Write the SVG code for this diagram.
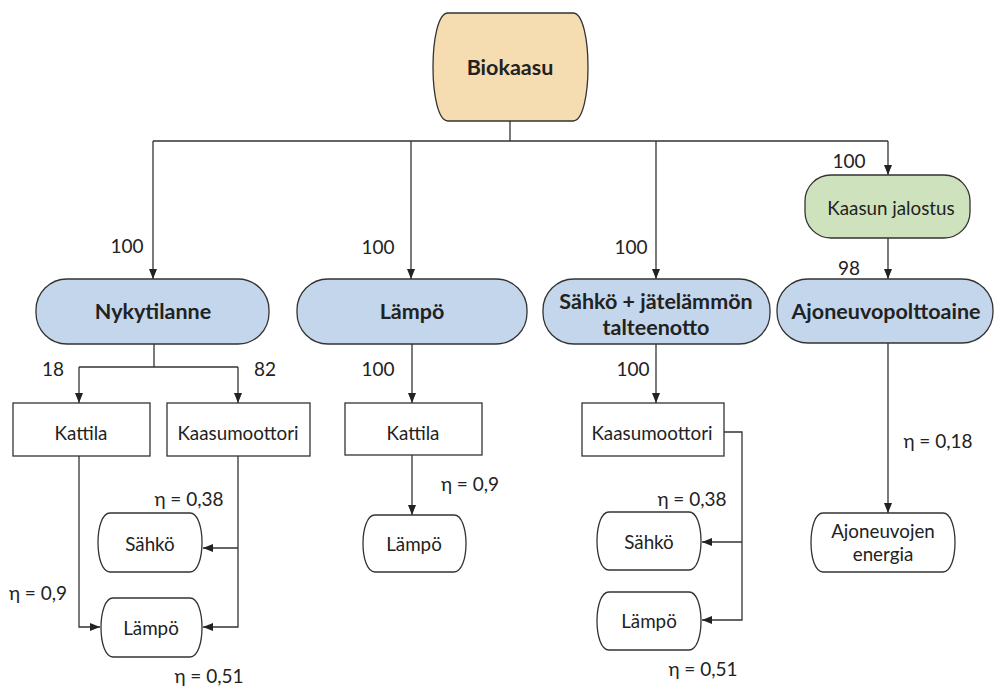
<svg xmlns="http://www.w3.org/2000/svg" width="997" height="686" viewBox="0 0 997 686">
<defs>
<marker id="ah" viewBox="0 0 10 8" refX="10" refY="4" markerWidth="10" markerHeight="8" orient="auto" markerUnits="userSpaceOnUse"><path d="M0,0 L10,4 L0,8 z" fill="#222"/></marker>
<style>
.ln{fill:none;stroke:#333;stroke-width:1.3}
.ar{marker-end:url(#ah)}
.nd{stroke:#333;stroke-width:1.3}
.w{fill:#fff}
.bl{fill:#c3d6eb}
.or{fill:#f5ddb1}
.gr{fill:#cfe2be}
text{font-family:Lato,"Open Sans","Liberation Sans",sans-serif;fill:#222;text-anchor:middle;dominant-baseline:central;font-size:18.8px}
.b{font-weight:bold;font-size:21.5px}
.lb{font-size:19px}
</style>
</defs>
<g id="connectors">
<path class="ln" d="M510,121 V141 M153,141 H888"/>
<path class="ln ar" d="M153,141 V279"/>
<path class="ln ar" d="M411,141 V279"/>
<path class="ln ar" d="M656,141 V279"/>
<path class="ln ar" d="M888,141 V175"/>
<path class="ln ar" d="M888,238 V279"/>
<path class="ln" d="M154,344 V367 M79,367 H238"/>
<path class="ln ar" d="M79,367 V403"/>
<path class="ln ar" d="M238,367 V403"/>
<path class="ln ar" d="M79,456 V627 H100"/>
<path class="ln ar" d="M238,456 V627 H203"/>
<path class="ln ar" d="M238,548 H203"/>
<path class="ln ar" d="M412,344 V403"/>
<path class="ln ar" d="M412,455 V515"/>
<path class="ln ar" d="M656,344 V403"/>
<path class="ln ar" d="M724,432 H742 V620 H702"/>
<path class="ln ar" d="M742,542 H702"/>
<path class="ln ar" d="M888,343 V513"/>
</g>
<g id="labels">
<text class="lb" x="127" y="245">100</text>
<text class="lb" x="378" y="246">100</text>
<text class="lb" x="631" y="246">100</text>
<text class="lb" x="849" y="160">100</text>
<text class="lb" x="849" y="267">98</text>
<text class="lb" x="53" y="368">18</text>
<text class="lb" x="265" y="368">82</text>
<text class="lb" x="378" y="368">100</text>
<text class="lb" x="633" y="368">100</text>
<text class="lb" x="189" y="498">η = 0,38</text>
<text class="lb" x="38" y="592">η = 0,9</text>
<text class="lb" x="209" y="675">η = 0,51</text>
<text class="lb" x="470" y="483">η = 0,9</text>
<text class="lb" x="692" y="498">η = 0,38</text>
<text class="lb" x="703" y="668">η = 0,51</text>
<text class="lb" x="938" y="440">η = 0,18</text>
</g>
<g id="biokaasu">
<path class="nd or" d="M448,13 H573 C593,13 593,121 573,121 H448 C428,121 428,13 448,13 Z"/>
<text class="b" x="510" y="67">Biokaasu</text>
</g>
<g id="nykytilanne">
<rect class="nd bl" x="36" y="279" width="233" height="65" rx="31"/>
<text class="b" x="153" y="311">Nykytilanne</text>
</g>
<g id="lampo">
<rect class="nd bl" x="297" y="279" width="230" height="65" rx="31"/>
<text class="b" x="412" y="311">Lämpö</text>
</g>
<g id="sahko-jatelampo">
<rect class="nd bl" x="543" y="279" width="227" height="65" rx="31"/>
<text class="b" x="656" y="301">Sähkö + jätelämmön</text>
<text class="b" x="656" y="327">talteenotto</text>
</g>
<g id="kaasun-jalostus">
<rect class="nd gr" x="805" y="175" width="165" height="63" rx="26"/>
<text x="891" y="207">Kaasun jalostus</text>
</g>
<g id="ajoneuvopolttoaine">
<rect class="nd bl" x="777" y="279" width="216" height="64" rx="31"/>
<text class="b" x="886" y="311">Ajoneuvopolttoaine</text>
</g>
<g id="kattila-1">
<rect class="nd w" x="13" y="403" width="137" height="53"/>
<text x="81" y="432">Kattila</text>
</g>
<g id="kaasumoottori-1">
<rect class="nd w" x="167" y="403" width="143" height="53"/>
<text x="238" y="432">Kaasumoottori</text>
</g>
<g id="sahko-1">
<path class="nd w" d="M110,513 H190 C206,513 206,572 190,572 H110 C94,572 94,513 110,513 Z"/>
<text x="150" y="543">Sähkö</text>
</g>
<g id="lampo-1">
<path class="nd w" d="M113,598 H190 C206,598 206,657 190,657 H113 C97,657 97,598 113,598 Z"/>
<text x="151" y="627">Lämpö</text>
</g>
<g id="kattila-2">
<rect class="nd w" x="345" y="403" width="137" height="52"/>
<text x="413" y="432">Kattila</text>
</g>
<g id="lampo-2">
<path class="nd w" d="M375,515 H454 C470,515 470,572 454,572 H375 C359,572 359,515 375,515 Z"/>
<text x="414" y="543">Lämpö</text>
</g>
<g id="kaasumoottori-2">
<rect class="nd w" x="582" y="403" width="142" height="53"/>
<text x="652" y="432">Kaasumoottori</text>
</g>
<g id="sahko-2">
<path class="nd w" d="M609,512 H689 C705,512 705,570 689,570 H609 C593,570 593,512 609,512 Z"/>
<text x="649" y="541">Sähkö</text>
</g>
<g id="lampo-3">
<path class="nd w" d="M609,592 H689 C705,592 705,650 689,650 H609 C593,650 593,592 609,592 Z"/>
<text x="649" y="620">Lämpö</text>
</g>
<g id="ajoneuvojen-energia">
<path class="nd w" d="M823,513 H943 C959,513 959,572 943,572 H823 C807,572 807,513 823,513 Z"/>
<text x="883" y="530">Ajoneuvojen</text>
<text x="883" y="553">energia</text>
</g>
</svg>
